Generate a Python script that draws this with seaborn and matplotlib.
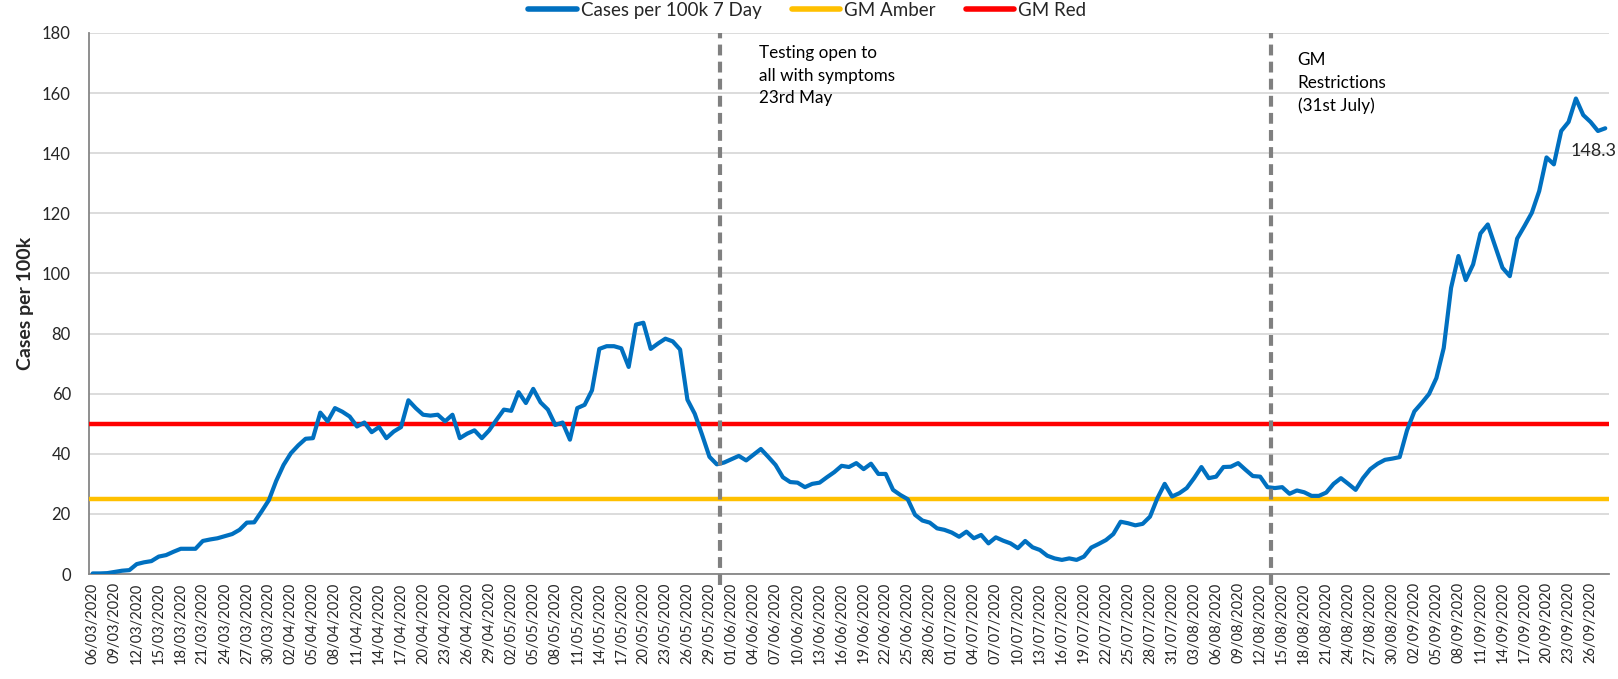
import matplotlib
matplotlib.use("Agg")
import matplotlib.pyplot as plt
import numpy as np
import pandas as pd
import seaborn as sns

# daily values, first day 06/03/2020
start_date = "2020-03-06"
cases_7day = [
    0.2, 0.2, 0.3, 0.7, 1.1, 1.3, 3.3, 3.9, 4.3, 5.8,
    6.3, 7.4, 8.4, 8.4, 8.4, 11.0, 11.5, 11.9, 12.6, 13.3,
    14.7, 17.1, 17.2, 20.8, 24.6, 31.0, 36.3, 40.2, 42.8, 45.0,
    45.2, 53.7, 50.8, 55.2, 54.0, 52.4, 49.1, 50.4, 47.2, 48.9,
    45.2, 47.4, 48.9, 57.8, 55.2, 53.0, 52.7, 53.0, 50.8, 53.0,
    45.2, 46.7, 47.8, 45.2, 47.8, 51.3, 54.7, 54.3, 60.5, 56.9,
    61.6, 57.1, 54.7, 49.6, 50.4, 44.7, 55.2, 56.3, 61.1, 74.9,
    75.8, 75.8, 75.1, 68.9, 83.0, 83.6, 74.9, 76.7, 78.3, 77.4,
    74.7, 58.0, 53.3, 46.3, 39.0, 36.5, 37.1, 38.2, 39.3, 37.8,
    39.7, 41.6, 39.0, 36.3, 32.2, 30.6, 30.4, 28.9, 30.0, 30.4,
    32.2, 33.9, 36.0, 35.6, 36.9, 34.9, 36.7, 33.3, 33.3, 28.0,
    26.3, 24.9, 19.7, 17.8, 17.1, 15.2, 14.7, 13.8, 12.4, 14.1,
    11.9, 13.0, 10.2, 12.2, 11.1, 10.2, 8.6, 11.0, 8.9, 8.0,
    6.1, 5.2, 4.7, 5.2, 4.7, 5.8, 8.8, 10.0, 11.3, 13.3,
    17.4, 16.9, 16.2, 16.7, 19.1, 25.2, 30.0, 25.8, 26.9, 28.6,
    31.9, 35.6, 31.9, 32.4, 35.6, 35.7, 36.9, 34.7, 32.6, 32.4,
    28.9, 28.6, 28.9, 26.7, 27.8, 27.2, 26.0, 26.0, 27.1, 30.0,
    31.9, 30.0, 28.0, 31.9, 34.9, 36.7, 38.0, 38.4, 38.9, 47.8,
    54.1, 56.9, 59.9, 65.2, 75.2, 95.2, 105.8, 97.8, 103.0, 113.3,
    116.3, 109.1, 101.9, 99.1, 111.6, 115.8, 120.2, 127.4, 138.6, 136.3,
    147.4, 150.4, 158.2, 152.7, 150.4, 147.4, 148.3,
]
gm_amber = 25
gm_red = 50
event_dates = ["2020-05-31", "2020-08-14"]
event_labels = [
    "Testing open to\nall with symptoms\n23rd May",
    "GM\nRestrictions\n(31st July)",
]
y_ticks = list(range(0, 181, 20))

dates = pd.date_range(start_date, periods=len(cases_7day), freq="D")
df = pd.DataFrame({"day": np.arange(len(dates)), "date": dates, "cases": cases_7day})

sns.set_style("white")
plt.rcParams["font.family"] = ["Lato", "DejaVu Sans"]

fig, ax = plt.subplots(figsize=(16.18, 6.79), dpi=100)
fig.subplots_adjust(left=0.055, right=0.9944, top=0.9514, bottom=0.1546)

ax.set_axisbelow(True)
ax.grid(axis="y", color="#d9d9d9", linewidth=1.3)

sns.lineplot(data=df, x="day", y="cases", ax=ax, color="#0070C0", linewidth=3.0,
             label="Cases per 100k 7 Day", zorder=4)
ax.axhline(gm_amber, color="#FFC000", linewidth=3.2, label="GM Amber", zorder=3)
ax.axhline(gm_red, color="#FF0000", linewidth=3.2, label="GM Red", zorder=3)

# event markers sit on the category boundary before the date
text_offsets = [(28, -9), (19, -14)]
for d, lbl, off in zip(event_dates, event_labels, text_offsets):
    x = df.index[df["date"] == pd.Timestamp(d)][0] - 0.5
    ax.axvline(x, color="#808080", linewidth=3.0, linestyle=(0, (2.6, 1.5)), zorder=5,
               ymin=-0.02, clip_on=False)
    ax.annotate(lbl, xy=(x, y_ticks[-1]), xytext=off, textcoords="offset points",
                ha="left", va="top", fontsize=12.3, linespacing=1.5, color="#000000")

last = df.iloc[-1]
ax.annotate(f"{last['cases']:.1f}", xy=(last["day"], last["cases"]), xytext=(-25, -16),
            textcoords="offset points", ha="left", va="center", fontsize=13)

n = len(df)
ax.set_xlim(-0.5, n - 0.5)
ax.set_ylim(y_ticks[0], y_ticks[-1])
ax.set_yticks(y_ticks)
ax.tick_params(axis="y", labelsize=12, length=7, width=1.2, color="#868686", pad=6)

# tick marks between categories, labels centred on every third day
ax.set_xticks(np.arange(-0.5, n, 3))
ax.set_xticklabels([])
ax.tick_params(axis="x", which="major", length=6, width=1.2, color="#868686")
lab_pos = np.arange(0, n, 3)
ax.set_xticks(lab_pos, minor=True)
ax.set_xticklabels(df["date"].dt.strftime("%d/%m/%Y").iloc[lab_pos], minor=True,
                   rotation=90, fontsize=10.5)
ax.tick_params(axis="x", which="minor", length=0, pad=6)

ax.set_xlabel("")
ax.set_ylabel("Cases per 100k", fontsize=14, fontweight="bold", labelpad=6)

sns.despine(ax=ax)
for side in ("left", "bottom"):
    ax.spines[side].set_color("#868686")
    ax.spines[side].set_linewidth(1.3)

leg = ax.legend(loc="center", bbox_to_anchor=(0.499, 0.985), bbox_transform=fig.transFigure,
                ncol=3, frameon=False, fontsize=13.5, handlelength=2.6, columnspacing=1.6,
                handletextpad=0.2)
for h in leg.get_lines():
    h.set_linewidth(4)

fig.savefig("out.png", dpi=100)
plt.close(fig)
